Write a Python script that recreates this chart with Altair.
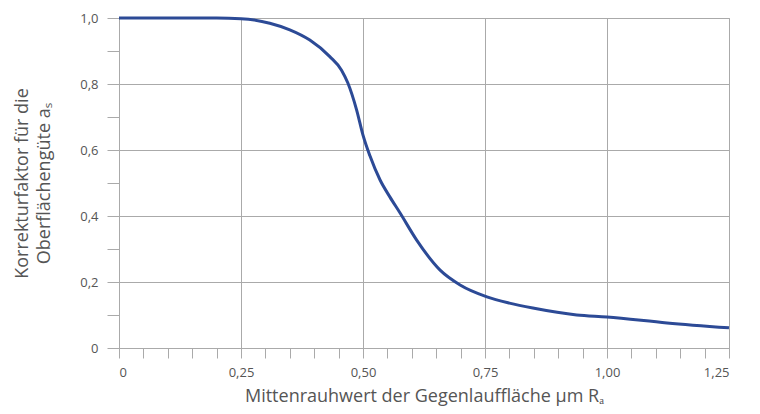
import altair as alt
import pandas as pd

# Curve
x_vals = [0, 0.1, 0.2, 0.25, 0.309, 0.35, 0.391, 0.432, 0.456, 0.469, 0.487,
          0.5, 0.514, 0.535, 0.555, 0.576, 0.61, 0.658, 0.699, 0.754, 0.8, 0.848,
          0.938, 1.0, 1.123, 1.25]
y_vals = [1.0, 1.0, 1.0, 0.998, 0.984, 0.964, 0.933, 0.883, 0.842, 0.803, 0.721,
          0.645, 0.583, 0.509, 0.458, 0.409, 0.327, 0.236, 0.191, 0.155, 0.136, 0.121,
          0.100, 0.094, 0.076, 0.061]

x_ticks = [round(i * 0.05, 2) for i in range(26)]
y_ticks = [round(i * 0.1, 1) for i in range(11)]

df = pd.DataFrame({"x": x_vals, "y": y_vals})

FONT = "Open Sans"
GRAY = "#555555"
GRID = "#aaaaaa"

x_axis = alt.Axis(
    values=x_ticks,
    title="Mittenrauhwert der Gegenlauffläche µm Rₐ",
    labelExpr="abs(datum.value*4 - round(datum.value*4)) < 1e-6 ? (datum.value == 0 ? '0' : replace(format(datum.value, '.2f'), '.', ',')) : ''",
    gridOpacity=alt.condition("abs(datum.value*4 - round(datum.value*4)) < 1e-6", alt.value(1), alt.value(0)),
    tickSize=10,
    labelPadding=8,
    titlePadding=8,
)
y_axis = alt.Axis(
    values=y_ticks,
    title=["Korrekturfaktor für die", "Oberflächengüte aₛ"],
    labelExpr="abs(datum.value*5 - round(datum.value*5)) < 1e-6 ? (datum.value == 0 ? '0' : replace(format(datum.value, '.1f'), '.', ',')) : ''",
    gridOpacity=alt.condition("abs(datum.value*5 - round(datum.value*5)) < 1e-6", alt.value(1), alt.value(0)),
    tickSize=12,
    labelPadding=9,
    titlePadding=26,
    titleLineHeight=22,
)

chart = alt.Chart(df).mark_line(
    color="#2c4a96", strokeWidth=3, interpolate="monotone"
).encode(
    x=alt.X("x:Q", scale=alt.Scale(domain=[0, 1.25], nice=False), axis=x_axis),
    y=alt.Y("y:Q", scale=alt.Scale(domain=[0, 1.0], nice=False), axis=y_axis),
).properties(
    width=610,
    height=330,
    autosize=alt.AutoSizeParams(type="none"),
    padding={"left": 111, "top": 10, "right": 23, "bottom": 58},
).configure_axis(
    labelFont=FONT,
    titleFont=FONT,
    labelColor=GRAY,
    titleColor=GRAY,
    labelFontSize=13,
    titleFontSize=18,
    titleFontWeight="normal",
    gridColor=GRID,
    gridWidth=1,
    tickColor=GRID,
    domainColor=GRID,
    tickWidth=1,
).configure_view(
    stroke=GRID,
)

chart.save("out.html", embed_options={"renderer": "svg", "actions": False})
